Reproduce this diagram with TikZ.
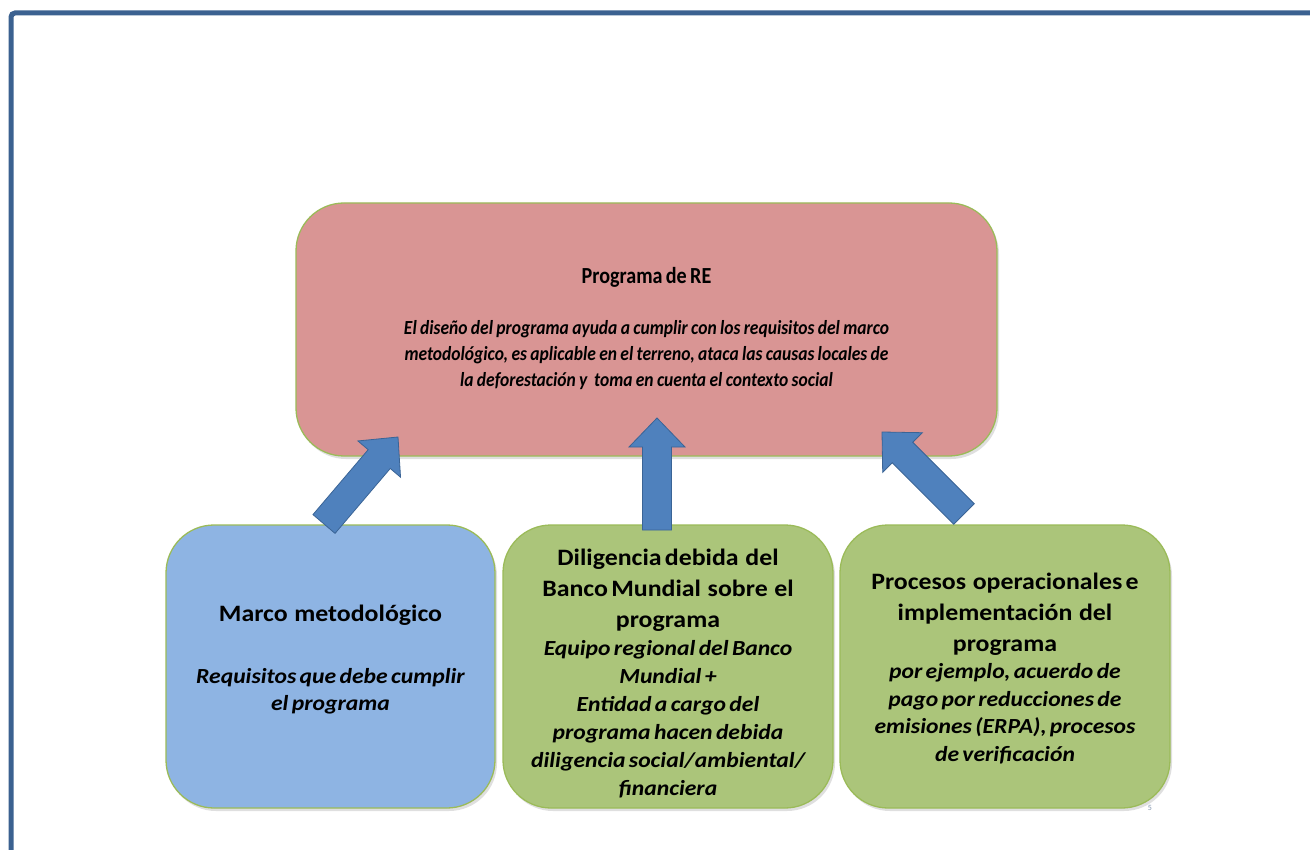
\documentclass[tikz,border=0pt]{standalone}
\usepackage{fontspec}
\setmainfont{Carlito}
\newfontfamily\condensed{Carlito}[FakeStretch=0.875]
\newfontfamily\wide{Carlito}[FakeStretch=1.1]
\usetikzlibrary{calc,shadows}
\definecolor{framecol}{HTML}{3B6190}
\definecolor{pinkfill}{HTML}{D99594}
\definecolor{bluefill}{HTML}{8EB4E3}
\definecolor{greenfill}{HTML}{ABC57A}
\definecolor{greenline}{HTML}{9BBB59}
\definecolor{arrowfill}{HTML}{4F81BD}
\definecolor{arrowline}{HTML}{3A6496}
\definecolor{numcol}{HTML}{8497B0}
\tikzset{
  box/.style={draw=greenline, line width=1.3pt, rounded corners=48pt,
    drop shadow={opacity=0.25, shadow xshift=2pt, shadow yshift=-3pt},
    inner sep=0pt, align=center, text=black},
  blockarr/.style={fill=arrowfill, draw=arrowline, line width=0.8pt, line join=miter}
}
\newcommand{\blockarrow}[2]{%
  \coordinate (hb) at ($(#2)!29pt!(#1)$);
  \draw[blockarr] ($(#1)!14.5pt!90:(#2)$) -- ($(hb)!14.5pt!-90:(#1)$)
    -- ($(hb)!28pt!-90:(#1)$) -- (#2) -- ($(hb)!28pt!90:(#1)$)
    -- ($(hb)!14.5pt!90:(#1)$) -- ($(#1)!14.5pt!-90:(#2)$) -- cycle;}
\begin{document}
\begin{tikzpicture}[x=1pt,y=-1pt]
\useasboundingbox (0,0) rectangle (1310,850);
\fill[white] (0,0) rectangle (1310,850);
\draw[framecol, line width=5pt, rounded corners=4pt] (11,856) -- (11,13) -- (1316,13);

\node[box, fill=pinkfill, minimum width=701pt, minimum height=253pt, text width=690pt]
  (re) at (646.5,329.5) {%
  \condensed\fontsize{23}{26}\selectfont\bfseries Programa de RE\par\vspace{25pt}
  \fontsize{20}{26}\selectfont\bfseries\itshape El diseño del programa ayuda a cumplir con los requisitos del marco\\
  metodológico, es aplicable en el terreno, ataca las causas locales de\\
  la deforestación y\ \ toma en cuenta el contexto social\par\vspace{2pt}};

\node[box, fill=bluefill, minimum width=329pt, minimum height=283pt, text width=320pt]
  (marco) at (330.5,666.5) {%
  \wide\fontsize{23.5}{27}\selectfont\bfseries Marco\ \ metodológico\par\vspace{35pt}
  \fontsize{21.5}{27}\selectfont\bfseries\itshape Requisitos que debe cumplir\\ el programa\par\vspace{14pt}};

\node[box, fill=greenfill, minimum width=330pt, minimum height=283pt, text width=320pt]
  (dil) at (668,666.5) {%
  \wide\fontsize{23.5}{31}\selectfont\bfseries Diligencia debida\ \ del\\ Banco Mundial\ \ sobre\ \ el\\ programa\par
  \fontsize{21.5}{28}\selectfont\bfseries\itshape Equipo regional del Banco\\ Mundial +\\ Entidad a cargo del\\
  programa hacen debida\\ diligencia social/ambiental/\\ financiera\par\vspace{-14pt}};

\node[box, fill=greenfill, minimum width=330pt, minimum height=283pt, text width=320pt]
  (proc) at (1005,666.5) {%
  \wide\fontsize{23.5}{31}\selectfont\bfseries Procesos\ \ operacionales e\\ implementación\ \ del\\ programa\par
  \fontsize{21.5}{27.5}\selectfont\bfseries\itshape por ejemplo, acuerdo de\\ pago por reducciones de\\
  emisiones (ERPA), procesos\\ de verificación\par\vspace{-4pt}};

\node[text=numcol, font=\fontsize{8}{9}\selectfont] (num) at (1150,808) {5};

\coordinate (lt) at (324,524);
\coordinate (lh) at (398,437);
\coordinate (mt) at (657,530);
\coordinate (mh) at (657,418);
\coordinate (rt) at (964,514);
\coordinate (rh) at (882,432);
\blockarrow{lt}{lh}
\blockarrow{mt}{mh}
\blockarrow{rt}{rh}
\end{tikzpicture}
\end{document}
